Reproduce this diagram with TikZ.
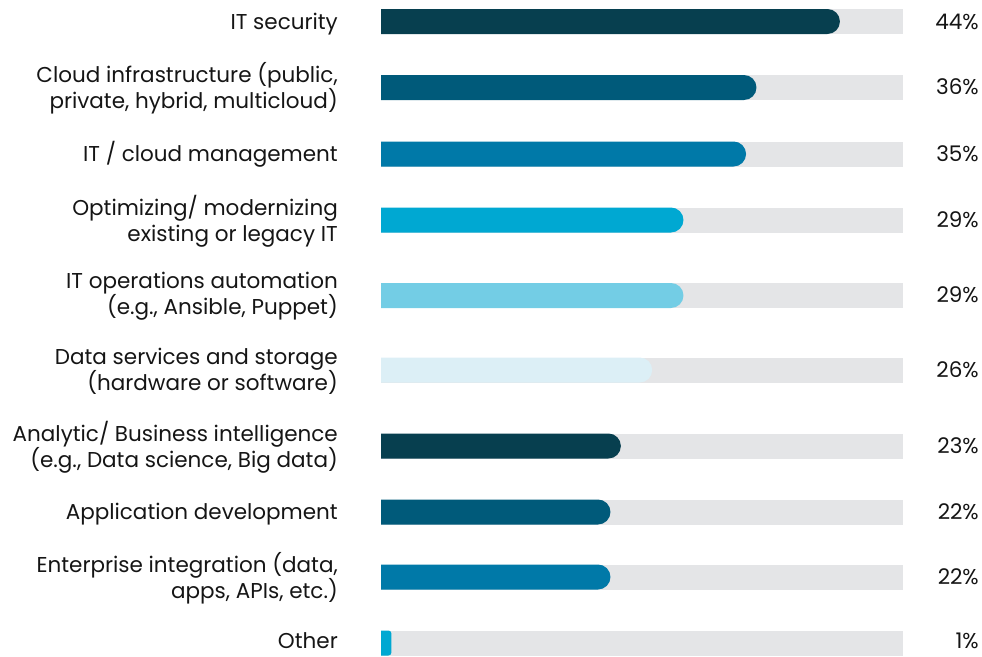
\documentclass[tikz,border=0pt]{standalone}
\usepackage{fontspec}
\setmainfont{Poppins}
\definecolor{cA}{HTML}{073F4F}
\definecolor{cB}{HTML}{005A7A}
\definecolor{cC}{HTML}{0079A8}
\definecolor{cD}{HTML}{00A8D2}
\definecolor{cE}{HTML}{73CDE5}
\definecolor{cF}{HTML}{DCEFF6}
\definecolor{track}{HTML}{E4E5E7}
\definecolor{txt}{HTML}{151515}
\tikzset{
  lbl/.style={anchor=east, align=right, font=\fontsize{21.5}{26}\selectfont, text=txt, inner sep=0pt, yshift=-1pt},
  lblone/.style={anchor=base east, font=\fontsize{21.5}{26}\selectfont, text=txt, inner sep=0pt},
  pct/.style={anchor=base east, font=\fontsize{21.5}{26}\selectfont, text=txt, inner sep=0pt},
}
\newcommand{\track}[4]{% y, pct, color, radius
  \fill[track] (381,#1-12.5) rectangle (903,#1+12.5);
  \begin{scope}
    \clip (381,#1-12.5) rectangle (903,#1+12.5);
    \fill[#3, rounded corners=#4] (341,#1-12.5) rectangle ({381+10.43*#2},#1+12.5);
  \end{scope}
}
\newcommand{\rowtwo}[5]{% name, y, pct, color, label
  \track{#2}{#3}{#4}{12.5pt}
  \node[lbl] (#1l) at (338,#2) {#5};
  \node[pct] (#1p) at (979,#2+7) {#3\%};
}
\newcommand{\rowone}[7]{% name, y, pct, color, label, radius, baseline offset
  \track{#2}{#3}{#4}{#6}
  \node[lblone] (#1l) at (338,#2+#7) {#5};
  \node[pct] (#1p) at (979,#2+#7) {#3\%};
}
\begin{document}
\begin{tikzpicture}[x=1pt,y=-1pt]
\useasboundingbox (0,0) rectangle (982,656);
\rowone{r1}{21.5}{44}{cA}{IT security}{12.5pt}{7.5}
\rowtwo{r2}{87.5}{36}{cB}{Cloud infrastructure (public,\\private, hybrid, multicloud)}
\rowone{r3}{154}{35}{cC}{IT / cloud management}{12.5pt}{7.5}
\rowtwo{r4}{220}{29}{cD}{Optimizing/ modernizing\\existing or legacy IT}
\rowtwo{r5}{295.5}{29}{cE}{IT operations automation\\(e.g., Ansible, Puppet)}
\rowtwo{r6}{370}{26}{cF}{Data services and storage\\(hardware or software)}
\rowtwo{r7}{446}{23}{cA}{Analytic/ Business intelligence\\(e.g., Data science, Big data)}
\rowone{r8}{512}{22}{cB}{Application development}{12.5pt}{7.5}
\rowtwo{r9}{577}{22}{cC}{Enterprise integration (data,\\apps, APIs, etc.)}
\rowone{r10}{643}{1}{cD}{Other}{3pt}{5.5}
\end{tikzpicture}
\end{document}
